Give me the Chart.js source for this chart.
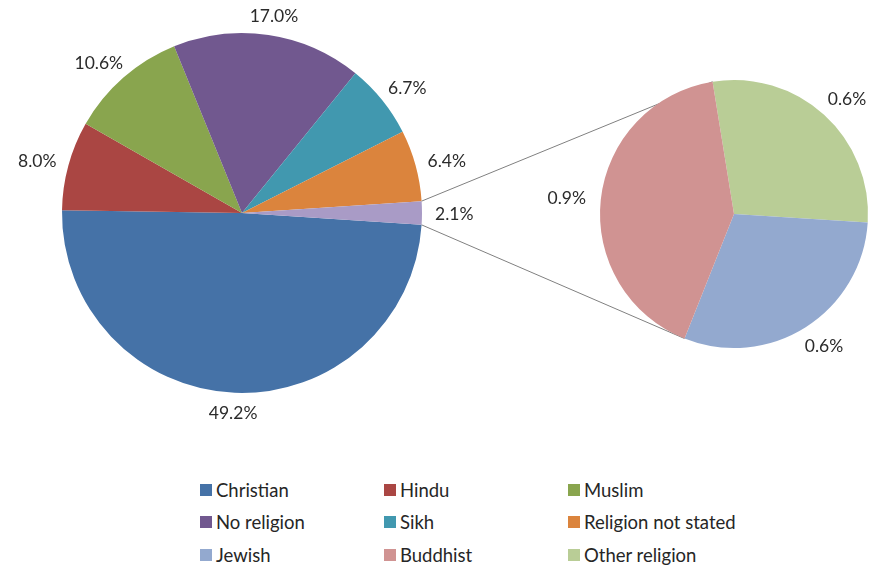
<!DOCTYPE html>
<html>
<head>
<meta charset="utf-8">
<script src="https://cdn.jsdelivr.net/npm/chart.js@4.4.0/dist/chart.umd.min.js"></script>
<style>
    html, body { margin: 0; padding: 0; background: #fff; }
    #wrap { position: relative; width: 879px; height: 566px; overflow: hidden; }
    canvas { position: absolute; left: 0; top: 0; }
    .legend { position: absolute; font-family: Lato, "Open Sans", sans-serif; font-size: 18.5px; color: #262626; }
    .legend .item { position: absolute; white-space: nowrap; height: 20px; line-height: 20px; }
    .legend .box { position: absolute; left: 0; top: 4px; width: 12px; height: 12px; }
    .legend .txt { position: absolute; left: 16px; top: 0; }
</style>
</head>
<body>
<div id="wrap">
    <canvas id="mainPie" width="879" height="450"></canvas>
    <canvas id="subPie" width="879" height="450"></canvas>
    <div class="legend" id="legend"></div>
</div>
<script>
// main pie: the last slice is the "other" group split out on the right
const mainLabels = ['Christian', 'Hindu', 'Muslim', 'No religion', 'Sikh', 'Religion not stated', 'Other'];
const mainValues = [49.2, 8.0, 10.6, 17.0, 6.7, 6.4, 2.1];
const mainColors = ['#4572A7', '#AA4643', '#89A54E', '#71588F', '#4198AF', '#DB843D', '#A99BC6'];

// second pie: breakdown of the 2.1%
const subLabels = ['Other religion', 'Jewish', 'Buddhist'];
const subValues = [0.60, 0.63, 0.87];
const subColors = ['#B9CD96', '#93A9CF', '#D09392'];

// legend order (3 columns)
const legendLabels = ['Christian', 'Hindu', 'Muslim', 'No religion', 'Sikh', 'Religion not stated', 'Jewish', 'Buddhist', 'Other religion'];
const legendColors = ['#4572A7', '#AA4643', '#89A54E', '#71588F', '#4198AF', '#DB843D', '#93A9CF', '#D09392', '#B9CD96'];

const labelFont = '17.5px Lato, "Open Sans", sans-serif';

function outsideLabels(gap) {
    return {
        id: 'outsideLabels',
        afterDatasetsDraw(chart) {
            const ctx = chart.ctx;
            const meta = chart.getDatasetMeta(0);
            const values = chart.data.datasets[0].data;
            ctx.save();
            ctx.font = labelFont;
            ctx.fillStyle = '#2b2b2b';
            ctx.textAlign = 'center';
            ctx.textBaseline = 'middle';
            meta.data.forEach((arc, i) => {
                const p = arc.getProps(['x', 'y', 'startAngle', 'endAngle', 'outerRadius'], true);
                const mid = (p.startAngle + p.endAngle) / 2;
                const c = Math.cos(mid), s = Math.sin(mid);
                const text = values[i].toFixed(1) + '%';
                const w = ctx.measureText(text).width;
                const r = p.outerRadius + gap;
                const x = p.x + c * r + c * w / 2;
                const y = p.y + s * r + s * 7;
                ctx.fillText(text, x, y + 1);
            });
            ctx.restore();
        }
    };
}

Chart.defaults.animation = false;

const mainChart = new Chart(document.getElementById('mainPie').getContext('2d'), {
    type: 'pie',
    data: {
        labels: mainLabels,
        datasets: [{
            data: mainValues,
            backgroundColor: mainColors,
            borderWidth: 0
        }]
    },
    options: {
        responsive: false,
        rotation: 90 + mainValues[mainValues.length - 1] * 3.6 / 2,
        layout: { padding: { left: 62, top: 33, right: 457, bottom: 57 } },
        plugins: { legend: { display: false }, tooltip: { enabled: false } }
    },
    plugins: [outsideLabels(13)]
});

// connector lines from the split-out slice to the second pie
const connectors = {
    id: 'connectors',
    beforeDatasetsDraw(chart) {
        const ctx = chart.ctx;
        const mm = mainChart.getDatasetMeta(0).data;
        const last = mm[mm.length - 1].getProps(['x', 'y', 'startAngle', 'endAngle', 'outerRadius'], true);
        const sm = chart.getDatasetMeta(0).data;
        const first = sm[0].getProps(['x', 'y', 'startAngle', 'outerRadius'], true);
        const lastSub = sm[sm.length - 1].getProps(['x', 'y', 'startAngle', 'outerRadius'], true);
        const pt = (p, a) => [p.x + Math.cos(a) * p.outerRadius, p.y + Math.sin(a) * p.outerRadius];
        const a1 = pt(last, last.startAngle), b1 = pt(first, first.startAngle);
        const a2 = pt(last, last.endAngle), b2 = pt(lastSub, lastSub.startAngle);
        ctx.save();
        ctx.strokeStyle = '#808080';
        ctx.lineWidth = 1;
        ctx.beginPath();
        ctx.moveTo(a1[0], a1[1]); ctx.lineTo(b1[0], b1[1]);
        ctx.moveTo(a2[0], a2[1]); ctx.lineTo(b2[0], b2[1]);
        ctx.stroke();
        ctx.restore();
    }
};

new Chart(document.getElementById('subPie').getContext('2d'), {
    type: 'pie',
    data: {
        labels: subLabels,
        datasets: [{
            data: subValues,
            backgroundColor: subColors,
            borderWidth: 0
        }]
    },
    options: {
        responsive: false,
        rotation: -9.2,
        layout: { padding: { left: 600, top: 80, right: 11, bottom: 102 } },
        plugins: { legend: { display: false }, tooltip: { enabled: false } }
    },
    plugins: [connectors, outsideLabels(15)]
});

// html legend, 3 columns
const legend = document.getElementById('legend');
const colX = [200, 384, 568];
const rowY = [480, 512, 545];
legendLabels.forEach((name, i) => {
    const item = document.createElement('div');
    item.className = 'item';
    item.style.left = colX[i % 3] + 'px';
    item.style.top = rowY[Math.floor(i / 3)] + 'px';
    item.innerHTML = '<span class="box" style="background:' + legendColors[i] + '"></span><span class="txt">' + name + '</span>';
    legend.appendChild(item);
});
</script>
</body>
</html>
